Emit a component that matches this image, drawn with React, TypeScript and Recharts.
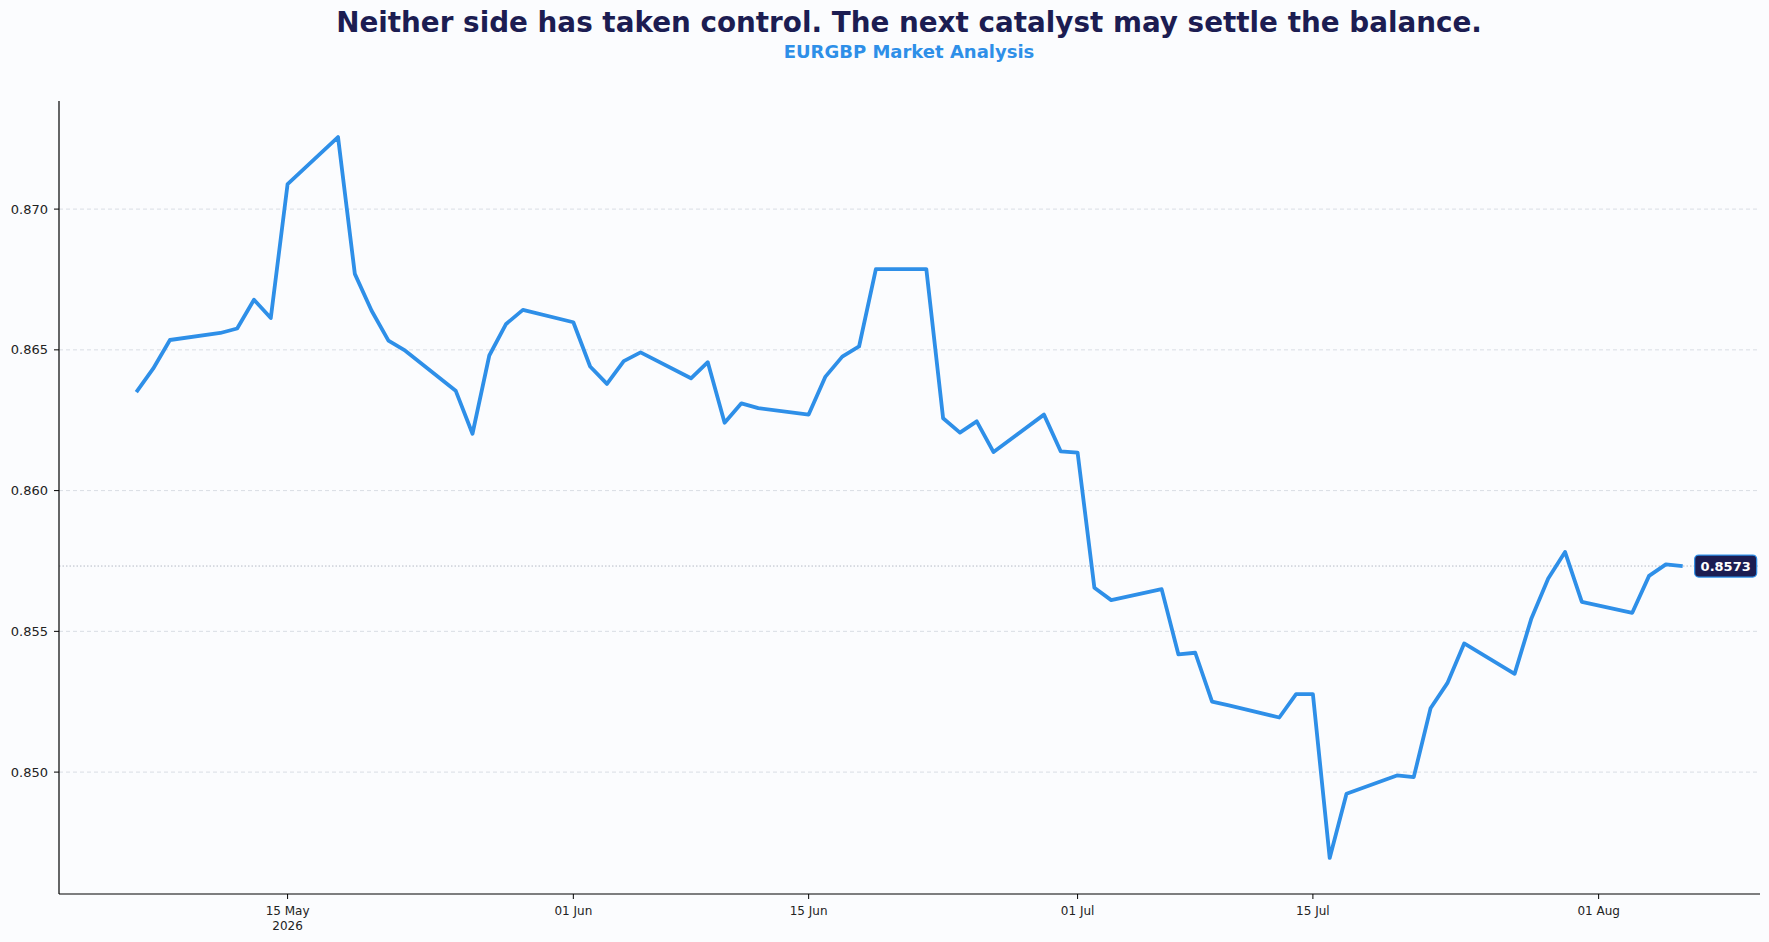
import React from "react";
import {
  LineChart,
  Line,
  XAxis,
  YAxis,
  ReferenceLine,
  ReferenceDot,
} from "recharts";

// EURGBP daily closes (business days)
const dates = [
  "2026-05-06", "2026-05-07", "2026-05-08", "2026-05-11", "2026-05-12", "2026-05-13",
  "2026-05-14", "2026-05-15", "2026-05-18", "2026-05-19", "2026-05-20", "2026-05-21",
  "2026-05-22", "2026-05-25", "2026-05-26", "2026-05-27", "2026-05-28", "2026-05-29",
  "2026-06-01", "2026-06-02", "2026-06-03", "2026-06-04", "2026-06-05", "2026-06-08",
  "2026-06-09", "2026-06-10", "2026-06-11", "2026-06-12", "2026-06-15", "2026-06-16",
  "2026-06-17", "2026-06-18", "2026-06-19", "2026-06-22", "2026-06-23", "2026-06-24",
  "2026-06-25", "2026-06-26", "2026-06-29", "2026-06-30", "2026-07-01", "2026-07-02",
  "2026-07-03", "2026-07-06", "2026-07-07", "2026-07-08", "2026-07-09", "2026-07-10",
  "2026-07-13", "2026-07-14", "2026-07-15", "2026-07-16", "2026-07-17", "2026-07-20",
  "2026-07-21", "2026-07-22", "2026-07-23", "2026-07-24", "2026-07-27", "2026-07-28",
  "2026-07-29", "2026-07-30", "2026-07-31", "2026-08-03", "2026-08-04", "2026-08-05",
  "2026-08-06",
];

const closes = [
  0.8635, 0.86433, 0.86535, 0.8656, 0.86576, 0.86678,
  0.86613, 0.87089, 0.87256, 0.8677, 0.86639, 0.86533,
  0.86497, 0.86355, 0.86202, 0.8648, 0.86592, 0.86642,
  0.86598, 0.86441, 0.86379, 0.8646, 0.86491, 0.86399,
  0.86456, 0.86241, 0.8631, 0.86293, 0.8627, 0.86405,
  0.86476, 0.86512, 0.86787, 0.86787, 0.86257, 0.86206,
  0.86246, 0.86137, 0.8627, 0.86139, 0.86135, 0.85655,
  0.85611, 0.8565, 0.85418, 0.85424, 0.8525, 0.85237,
  0.85194, 0.85277, 0.85277, 0.84695, 0.84923, 0.84988,
  0.84982, 0.85227, 0.85316, 0.85457, 0.85349, 0.85546,
  0.85688, 0.85782, 0.85605, 0.85566, 0.85697, 0.85738,
  0.85732,
];

const xTickDates = ["2026-05-15", "2026-06-01", "2026-06-15", "2026-07-01", "2026-07-15", "2026-08-01"];
const yTicks = [0.85, 0.855, 0.86, 0.865, 0.87];
const MONTHS = ["Jan", "Feb", "Mar", "Apr", "May", "Jun", "Jul", "Aug", "Sep", "Oct", "Nov", "Dec"];

const TITLE = "Neither side has taken control. The next catalyst may settle the balance.";
const SUBTITLE = "EURGBP Market Analysis";

const DAY = 86400000;
const toDay = (s: string) => Date.parse(s + "T00:00:00Z") / DAY;

const data = dates.map((d, i) => ({ day: toDay(d), close: closes[i] }));
const last = data[data.length - 1];

// matplotlib-like 5% margins
const xMin = data[0].day;
const xMax = last.day;
const xPad = (xMax - xMin) * 0.05;
const yMin = Math.min(...closes);
const yMax = Math.max(...closes);
const yPad = (yMax - yMin) * 0.05;

const FONT = "'DejaVu Sans', Verdana, sans-serif";
const LINE = "#2e8fe8";
const NAVY = "#1c1d52";

const DateTick = (props: any) => {
  const { x, y, payload, index } = props;
  const dt = new Date(payload.value * DAY);
  const label = String(dt.getUTCDate()).padStart(2, "0") + " " + MONTHS[dt.getUTCMonth()];
  return (
    <text x={x} y={y} textAnchor="middle" fontSize={12} fill="#222" fontFamily={FONT}>
      <tspan x={x} dy="0.71em">{label}</tspan>
      {index === 0 && (
        <tspan x={x} dy="1.25em">{dt.getUTCFullYear()}</tspan>
      )}
    </text>
  );
};

const PriceTag = (props: any) => {
  const { cx, cy } = props;
  if (cx == null || cy == null) return null;
  const w = 62;
  const h = 22;
  const x0 = cx + 12;
  return (
    <g>
      <rect x={x0} y={cy - h / 2} width={w} height={h} rx={4} fill={NAVY} stroke={LINE} strokeWidth={1.2} />
      <text
        x={x0 + w / 2}
        y={cy}
        dy="0.36em"
        textAnchor="middle"
        fontSize={13}
        fontWeight="bold"
        fill="#ffffff"
        fontFamily={FONT}
      >
        {last.close.toFixed(4)}
      </text>
    </g>
  );
};

export default function App() {
  return (
    <div
      style={{
        position: "absolute",
        left: 0,
        top: 0,
        width: 1769,
        height: 942,
        background: "#fbfcfe",
        fontFamily: FONT,
      }}
    >
      <svg width={1769} height={100} style={{ position: "absolute", left: 0, top: 0 }}>
        <text x={909} y={32} textAnchor="middle" fontSize={27.8} fontWeight="bold" fill={NAVY} fontFamily={FONT}>
          {TITLE}
        </text>
        <text x={909} y={58} textAnchor="middle" fontSize={18} fontWeight="bold" fill={LINE} fontFamily={FONT}>
          {SUBTITLE}
        </text>
      </svg>
      <LineChart
        width={1769}
        height={942}
        data={data}
        margin={{ top: 101, right: 9, bottom: 0, left: 0 }}
      >
        <XAxis
          dataKey="day"
          type="number"
          domain={[xMin - xPad, xMax + xPad]}
          ticks={xTickDates.map(toDay)}
          tick={<DateTick />}
          tickSize={5}
          tickMargin={7}
          height={48}
          axisLine={{ stroke: "#000", strokeWidth: 1.2 }}
          tickLine={{ stroke: "#000" }}
          interval={0}
        />
        <YAxis
          type="number"
          domain={[yMin - yPad, yMax + yPad]}
          ticks={yTicks}
          tickFormatter={(v: number) => v.toFixed(3)}
          tick={{ fontSize: 13, fill: "#222", fontFamily: FONT }}
          tickSize={5}
          tickMargin={6}
          width={59}
          axisLine={{ stroke: "#000", strokeWidth: 1.2 }}
          tickLine={{ stroke: "#000" }}
          allowDataOverflow
        />
        {/* horizontal grid at the y ticks only */}
        {yTicks.map((t) => (
          <ReferenceLine key={t} y={t} stroke="#d9dde4" strokeDasharray="4 3" strokeWidth={1} />
        ))}
        <ReferenceLine y={last.close} stroke="#b4bac6" strokeDasharray="1.5 2" strokeWidth={1} />
        <Line
          type="linear"
          dataKey="close"
          stroke={LINE}
          strokeWidth={3.8}
          dot={false}
          strokeLinejoin="round"
          isAnimationActive={false}
        />
        <ReferenceDot x={last.day} y={last.close} r={0} shape={<PriceTag />} />
      </LineChart>
    </div>
  );
}
